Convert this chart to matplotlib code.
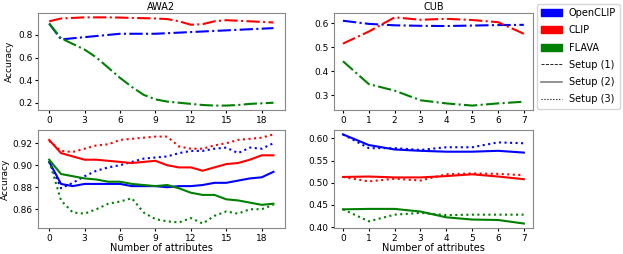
import matplotlib
matplotlib.use('Agg')
import matplotlib.pyplot as plt
from matplotlib.patches import Patch
from matplotlib.lines import Line2D

models = ['OpenCLIP', 'CLIP', 'FLAVA']
colors = {'OpenCLIP': 'blue', 'CLIP': 'red', 'FLAVA': 'green'}

# AWA2, 0..19 attributes
awa2_x = list(range(20))
awa2_s1 = {
    'OpenCLIP': [0.90, 0.76, 0.77, 0.78, 0.79, 0.80, 0.81, 0.81, 0.81, 0.81,
                 0.815, 0.82, 0.825, 0.83, 0.835, 0.84, 0.845, 0.85, 0.855, 0.86],
    'CLIP': [0.92, 0.945, 0.95, 0.955, 0.955, 0.955, 0.953, 0.95, 0.948, 0.945,
             0.94, 0.92, 0.89, 0.895, 0.92, 0.93, 0.925, 0.92, 0.915, 0.91],
    'FLAVA': [0.90, 0.77, 0.72, 0.67, 0.60, 0.51, 0.42, 0.34, 0.27, 0.23,
              0.21, 0.20, 0.19, 0.18, 0.175, 0.175, 0.18, 0.19, 0.195, 0.20],
}
awa2_s2 = {
    'OpenCLIP': [0.903, 0.883, 0.881, 0.883, 0.883, 0.883, 0.883, 0.881, 0.881, 0.881,
                 0.880, 0.881, 0.881, 0.882, 0.884, 0.884, 0.886, 0.888, 0.889, 0.894],
    'CLIP': [0.923, 0.911, 0.908, 0.905, 0.905, 0.904, 0.903, 0.902, 0.903, 0.904,
             0.900, 0.898, 0.898, 0.895, 0.898, 0.901, 0.902, 0.905, 0.909, 0.909],
    'FLAVA': [0.905, 0.892, 0.890, 0.888, 0.887, 0.885, 0.885, 0.883, 0.882, 0.881,
              0.882, 0.879, 0.875, 0.873, 0.873, 0.869, 0.868, 0.866, 0.864, 0.865],
}
awa2_s3 = {
    'OpenCLIP': [0.903, 0.879, 0.884, 0.890, 0.895, 0.898, 0.900, 0.903, 0.906, 0.907,
                 0.908, 0.911, 0.913, 0.913, 0.915, 0.916, 0.911, 0.916, 0.915, 0.920],
    'CLIP': [0.922, 0.913, 0.912, 0.915, 0.918, 0.919, 0.923, 0.924, 0.925, 0.926,
             0.926, 0.917, 0.915, 0.915, 0.918, 0.920, 0.923, 0.924, 0.925, 0.928],
    'FLAVA': [0.904, 0.868, 0.857, 0.856, 0.860, 0.865, 0.867, 0.870, 0.857, 0.851,
              0.849, 0.848, 0.852, 0.847, 0.854, 0.858, 0.856, 0.860, 0.860, 0.864],
}

# CUB, 0..7 attributes
cub_x = list(range(8))
cub_s1 = {
    'OpenCLIP': [0.610, 0.597, 0.591, 0.589, 0.588, 0.590, 0.592, 0.593],
    'CLIP': [0.515, 0.565, 0.624, 0.614, 0.618, 0.613, 0.604, 0.556],
    'FLAVA': [0.442, 0.347, 0.320, 0.280, 0.267, 0.258, 0.267, 0.274],
}
cub_s2 = {
    'OpenCLIP': [0.609, 0.585, 0.575, 0.572, 0.570, 0.570, 0.572, 0.568],
    'CLIP': [0.513, 0.514, 0.512, 0.512, 0.515, 0.519, 0.514, 0.508],
    'FLAVA': [0.440, 0.441, 0.441, 0.435, 0.422, 0.417, 0.416, 0.408],
}
cub_s3 = {
    'OpenCLIP': [0.609, 0.578, 0.578, 0.574, 0.580, 0.580, 0.591, 0.589],
    'CLIP': [0.513, 0.503, 0.509, 0.505, 0.519, 0.521, 0.520, 0.517],
    'FLAVA': [0.440, 0.413, 0.428, 0.432, 0.427, 0.428, 0.428, 0.428],
}

plt.rcParams['font.size'] = 7
fig = plt.figure(figsize=(6.23, 2.54), dpi=100)
ax_a1 = fig.add_axes([0.061, 0.567, 0.396, 0.382])
ax_a2 = fig.add_axes([0.061, 0.1024, 0.396, 0.386])
ax_c1 = fig.add_axes([0.536, 0.567, 0.3194, 0.382])
ax_c2 = fig.add_axes([0.536, 0.1024, 0.3194, 0.386])

for m in models:
    ax_a1.plot(awa2_x, awa2_s1[m], color=colors[m], ls='-.', lw=1.5)
    ax_a2.plot(awa2_x, awa2_s2[m], color=colors[m], ls='-', lw=1.5)
    ax_a2.plot(awa2_x, awa2_s3[m], color=colors[m], ls=':', lw=1.5)
    ax_c1.plot(cub_x, cub_s1[m], color=colors[m], ls='-.', lw=1.5)
    ax_c2.plot(cub_x, cub_s2[m], color=colors[m], ls='-', lw=1.5)
    ax_c2.plot(cub_x, cub_s3[m], color=colors[m], ls=':', lw=1.5)

ax_a1.set_title('AWA2', fontsize=7, pad=2)
ax_c1.set_title('CUB', fontsize=7, pad=2)
for ax in [ax_a1, ax_a2]:
    ax.set_xticks(range(0, 20, 3))
    ax.set_ylabel('Accuracy', fontsize=6.5)
for ax in [ax_c1, ax_c2]:
    ax.set_xticks(range(0, 8))
ax_a1.set_yticks([0.2, 0.4, 0.6, 0.8])
ax_a2.set_yticks([0.86, 0.88, 0.90, 0.92])
ax_c1.set_yticks([0.3, 0.4, 0.5, 0.6])
ax_c2.set_yticks([0.40, 0.45, 0.50, 0.55, 0.60])
ax_c2.set_yticklabels(['0.40', '0.45', '0.50', '0.55', '0.60'])
ax_a1.yaxis.set_label_coords(-0.097, 0.5)
ax_a2.yaxis.set_label_coords(-0.114, 0.5)
for ax in [ax_a2, ax_c2]:
    ax.set_xlabel('Number of attributes', labelpad=0)
for ax in [ax_a1, ax_a2, ax_c1, ax_c2]:
    ax.tick_params(length=2.5, pad=1.5, labelsize=6.5)
    for s in ax.spines.values():
        s.set_color('#888888')

handles = [Patch(color=colors[m], label=m) for m in models]
handles += [Line2D([], [], color='black', ls='--', lw=0.6, label='Setup (1)'),
            Line2D([], [], color='grey', ls='-', lw=1.2, label='Setup (2)'),
            Line2D([], [], color='black', ls=':', lw=0.8, label='Setup (3)')]
fig.legend(handles=handles, loc='upper left', bbox_to_anchor=(0.862, 0.986),
           fontsize=7, handlelength=2.1, labelspacing=0.75, borderpad=0.45,
           handletextpad=0.7, borderaxespad=0)

plt.savefig('out.png', dpi=100)
